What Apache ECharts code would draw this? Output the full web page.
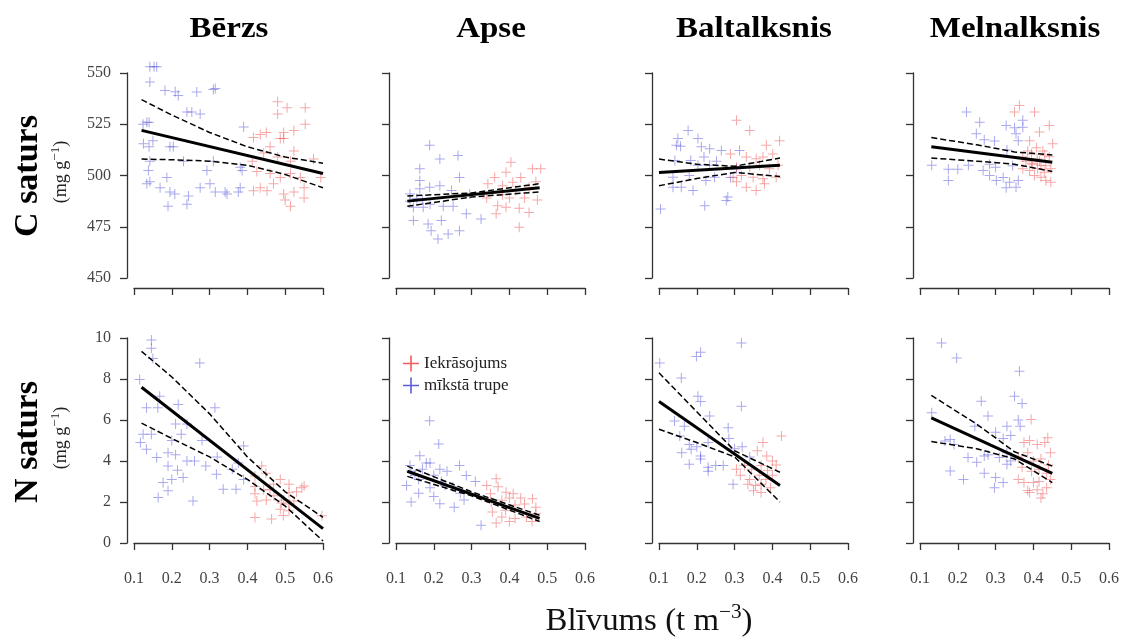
<!DOCTYPE html>
<html>
<head>
<meta charset="utf-8">
<script src="https://cdn.jsdelivr.net/npm/echarts@6/dist/echarts.min.js"></script>
<style>
  html, body { margin: 0; padding: 0; background: #fff; }
  #chart { width: 1123px; height: 641px; }
</style>
</head>
<body>
<div id="chart"></div>
<script>
// Panel titles and axis ticks
const species = ['Bērzs', 'Apse', 'Baltalksnis', 'Melnalksnis'];
const xTicks = [0.1, 0.6, 0.1];       // min, max, interval
const cTicks = [450, 550, 25];
const nTicks = [0, 10, 2];

// C content (mg/g) - [density, value]
const cBerzsBlue = [[0.142,553],[0.153,553],[0.16,553],[0.142,545.6],[0.182,541.5],[0.209,540.8],[0.217,539],[0.266,540.7],[0.315,542.4],[0.24,531],[0.253,531],[0.275,530],[0.134,526],[0.14,526],[0.124,525],[0.15,517],[0.125,515.5],[0.14,514],[0.195,514],[0.204,514],[0.142,507],[0.231,507],[0.31,507],[0.138,502.5],[0.293,502.5],[0.386,502.5],[0.142,497],[0.134,496],[0.187,499],[0.169,494],[0.195,492],[0.208,491],[0.19,485],[0.24,486],[0.244,490],[0.275,494],[0.301,496],[0.315,492],[0.341,492],[0.346,491],[0.376,492],[0.381,494],[0.381,504],[0.39,523.6],[0.31,542]];
const cBerzsRed = [[0.48,536],[0.505,533],[0.553,533],[0.553,525],[0.48,530],[0.434,520],[0.45,521],[0.496,521],[0.523,522],[0.416,518.5],[0.487,518],[0.46,514],[0.496,518],[0.523,512],[0.443,511],[0.48,509],[0.413,507],[0.514,507],[0.575,508],[0.425,502],[0.46,501],[0.487,499],[0.514,501],[0.54,499],[0.594,499],[0.434,494],[0.469,496],[0.452,492.6],[0.416,492.6],[0.496,491],[0.523,492],[0.55,494],[0.55,489],[0.514,485],[0.5,488]];
const cBerzsFit = [[0.12,522],[0.6,501]];
const cBerzsUp = [[0.12,537],[0.2,529.5],[0.3,521],[0.4,514],[0.5,509],[0.6,506]];
const cBerzsLo = [[0.12,508],[0.2,507.7],[0.3,507],[0.4,505],[0.5,500.5],[0.6,494]];

const cApseBlue = [[0.189,514.7],[0.216,508],[0.264,509.8],[0.163,503.3],[0.268,499],[0.137,491],[0.163,497.6],[0.189,494.3],[0.216,495],[0.247,492.7],[0.146,484.5],[0.172,484.5],[0.225,485],[0.251,485],[0.286,481.3],[0.146,478],[0.185,476.4],[0.22,478],[0.193,473],[0.211,469],[0.238,471.5],[0.268,473],[0.325,478.8],[0.137,487.5],[0.155,488.8],[0.17,488],[0.19,486],[0.163,493.5],[0.295,491]];
const cApseRed = [[0.404,506.5],[0.461,503.3],[0.483,503.3],[0.361,499],[0.391,501.6],[0.382,495],[0.409,496.7],[0.343,496],[0.417,492.7],[0.452,494.3],[0.369,485.3],[0.391,484.5],[0.426,484],[0.452,482],[0.365,481.3],[0.426,474.7],[0.474,488],[0.34,489],[0.4,489],[0.44,489],[0.382,490.6],[0.43,499],[0.47,497]];
const cApseFit = [[0.13,487.5],[0.48,494]];
const cApseUp = [[0.13,490],[0.3,491.5],[0.48,496]];
const cApseLo = [[0.13,485],[0.3,489.5],[0.48,492]];

const cBaltBlue = [[0.177,522],[0.146,514.7],[0.157,514.3],[0.15,518],[0.203,518],[0.212,514],[0.234,513],[0.265,512.2],[0.313,512.2],[0.142,507.3],[0.184,507.3],[0.219,509],[0.203,505],[0.234,505],[0.137,499.2],[0.18,500],[0.137,494.3],[0.159,494.3],[0.19,492.7],[0.224,497.6],[0.247,499.2],[0.221,485.3],[0.278,487.8],[0.282,489.5],[0.104,483.7],[0.305,503.3],[0.252,507],[0.289,499]];
const cBaltRed = [[0.305,526.9],[0.34,522],[0.384,514.7],[0.419,517],[0.331,509],[0.357,508.2],[0.375,509],[0.401,510.5],[0.305,504],[0.34,504],[0.366,505],[0.392,503.3],[0.415,505],[0.296,499.2],[0.318,500],[0.349,499.2],[0.375,498.4],[0.41,499.2],[0.331,494.3],[0.357,492.7],[0.379,496],[0.305,497],[0.289,510.5]];
const cBaltFit = [[0.1,501.5],[0.42,505]];
const cBaltUp = [[0.1,508],[0.2,505.5],[0.3,504.5],[0.42,508.5]];
const cBaltLo = [[0.1,495],[0.2,498.5],[0.3,501.5],[0.42,499.5]];

const cMelnBlue = [[0.223,531],[0.258,526],[0.131,505],[0.175,497.6],[0.175,503],[0.2,503],[0.228,505],[0.249,520.4],[0.27,517.5],[0.297,516.8],[0.328,524.4],[0.35,523.3],[0.372,526.9],[0.372,523.5],[0.354,520.4],[0.36,517],[0.33,512.4],[0.267,502.4],[0.284,500],[0.302,497.6],[0.32,499],[0.337,496.7],[0.354,494.3],[0.36,497.6],[0.328,494],[0.3,504],[0.284,505.5],[0.345,504.7]];
const cMelnRed = [[0.363,534.2],[0.35,531],[0.403,531],[0.442,524.4],[0.416,521.2],[0.451,515.5],[0.433,497.6],[0.39,517],[0.408,513.5],[0.395,510.5],[0.38,507],[0.398,505.5],[0.416,507],[0.433,504.7],[0.442,509.2],[0.372,503.3],[0.39,502.5],[0.411,503.3],[0.429,501.6],[0.446,503.3],[0.385,512],[0.425,512],[0.372,509],[0.403,500],[0.42,499.2],[0.446,496.7],[0.41,508],[0.43,510],[0.395,506],[0.42,505]];
const cMelnFit = [[0.13,514],[0.45,506.5]];
const cMelnUp = [[0.13,518.5],[0.25,515],[0.35,511.5],[0.45,510]];
const cMelnLo = [[0.13,508.5],[0.25,507],[0.35,505.5],[0.45,502]];

// N content (mg/g)
const nBerzsBlue = [[0.146,9.9],[0.146,9.5],[0.15,9.0],[0.274,8.78],[0.115,7.97],[0.168,7.16],[0.133,6.6],[0.163,6.6],[0.217,6.76],[0.314,6.6],[0.124,5.3],[0.146,5.3],[0.2,5.0],[0.225,5.3],[0.21,5.8],[0.24,5.8],[0.133,4.57],[0.16,4.17],[0.19,4.4],[0.21,4.3],[0.24,4.0],[0.117,4.9],[0.19,3.76],[0.215,3.55],[0.26,4.0],[0.29,3.76],[0.177,2.95],[0.2,3.1],[0.23,3.2],[0.318,3.35],[0.36,3.6],[0.376,3.9],[0.39,4.73],[0.164,2.22],[0.19,2.55],[0.256,2.05],[0.336,2.62],[0.37,2.62],[0.39,3.1],[0.32,4.2],[0.28,5.0]];
const nBerzsRed = [[0.438,3.76],[0.42,3.27],[0.449,3.4],[0.42,2.76],[0.443,2.6],[0.469,2.87],[0.487,3.1],[0.51,2.87],[0.544,2.7],[0.55,2.78],[0.425,2.05],[0.45,2.1],[0.47,2.3],[0.496,2.1],[0.51,2.45],[0.523,2.05],[0.42,1.25],[0.464,1.17],[0.487,1.65],[0.51,1.57],[0.495,1.34],[0.597,1.33],[0.42,2.4],[0.51,1.9],[0.49,1.95],[0.53,2.5],[0.46,2.6]];
const nBerzsFit = [[0.12,7.6],[0.6,0.7]];
const nBerzsUp = [[0.12,9.35],[0.2,8.1],[0.3,6.3],[0.4,4.2],[0.5,2.5],[0.6,1.25]];
const nBerzsLo = [[0.12,5.85],[0.2,5.1],[0.3,4.2],[0.4,3.1],[0.5,1.8],[0.6,0.1]];

const nApseBlue = [[0.189,5.96],[0.213,4.83],[0.163,4.26],[0.137,3.78],[0.19,3.9],[0.216,3.6],[0.235,3.5],[0.268,3.78],[0.286,3.29],[0.31,3.0],[0.128,2.8],[0.16,3.1],[0.19,2.7],[0.23,2.8],[0.14,2.0],[0.216,1.92],[0.254,1.75],[0.28,2.1],[0.15,3.3],[0.17,3.6],[0.2,3.3],[0.22,3.0],[0.25,2.75],[0.27,2.43],[0.16,2.43],[0.2,2.27],[0.325,0.86],[0.14,3.5],[0.18,3.9]];
const nApseRed = [[0.365,3.13],[0.34,2.8],[0.37,2.75],[0.391,2.48],[0.41,2.4],[0.352,2.0],[0.38,2.08],[0.415,1.85],[0.44,1.9],[0.461,2.16],[0.47,1.75],[0.355,1.51],[0.38,1.27],[0.415,1.2],[0.445,1.27],[0.47,1.43],[0.365,0.97],[0.4,1.05],[0.46,1.05],[0.35,2.4],[0.43,2.2],[0.39,1.6],[0.4,2.2]];
const nApseFit = [[0.13,3.5],[0.48,1.2]];
const nApseUp = [[0.13,3.75],[0.3,2.5],[0.48,1.35]];
const nApseLo = [[0.13,3.25],[0.3,2.3],[0.48,1.05]];

const nBaltBlue = [[0.102,8.78],[0.199,9.1],[0.21,9.3],[0.318,9.76],[0.159,8.05],[0.203,7.16],[0.21,6.9],[0.318,6.67],[0.234,6.19],[0.141,5.95],[0.167,5.7],[0.283,5.62],[0.155,5.22],[0.18,4.8],[0.2,4.7],[0.23,4.9],[0.16,4.4],[0.185,4.57],[0.21,4.25],[0.18,3.84],[0.21,4.1],[0.23,3.7],[0.25,3.78],[0.27,3.78],[0.23,3.5],[0.3,4.6],[0.32,4.7],[0.34,4.2],[0.296,2.87],[0.285,5.1]];
const nBaltRed = [[0.424,5.22],[0.375,4.9],[0.36,4.5],[0.385,4.24],[0.4,4.0],[0.305,3.6],[0.326,3.78],[0.345,3.6],[0.37,3.78],[0.387,3.55],[0.315,3.3],[0.34,3.1],[0.365,3.3],[0.383,3.1],[0.4,3.3],[0.335,2.87],[0.355,2.8],[0.37,2.87],[0.395,2.7],[0.37,2.46],[0.35,2.55],[0.41,3.8]];
const nBaltFit = [[0.1,6.9],[0.42,2.8]];
const nBaltUp = [[0.1,8.3],[0.2,6.4],[0.3,4.5],[0.42,3.45]];
const nBaltLo = [[0.1,5.55],[0.2,4.9],[0.3,4.2],[0.42,2.0]];

const nMelnBlue = [[0.157,9.76],[0.197,9.03],[0.363,8.38],[0.35,7.16],[0.262,6.92],[0.37,6.8],[0.28,6.19],[0.131,6.35],[0.245,5.7],[0.33,5.7],[0.36,6.0],[0.365,5.7],[0.166,4.97],[0.19,4.8],[0.18,5.05],[0.3,5.4],[0.32,5.1],[0.34,5.25],[0.227,4.17],[0.25,3.94],[0.27,4.25],[0.28,4.3],[0.31,4.17],[0.33,3.84],[0.34,4.0],[0.18,3.51],[0.215,3.1],[0.27,3.4],[0.3,3.2],[0.32,2.95],[0.297,2.7],[0.33,4.4]];
const nMelnRed = [[0.394,6.03],[0.438,5.14],[0.375,4.9],[0.41,4.8],[0.43,4.9],[0.445,4.4],[0.36,4.2],[0.385,4.4],[0.4,4.0],[0.42,4.1],[0.44,3.8],[0.37,3.7],[0.395,3.5],[0.415,3.6],[0.435,3.4],[0.445,3.1],[0.36,3.1],[0.375,2.95],[0.4,2.95],[0.415,3.0],[0.435,2.7],[0.385,2.56],[0.41,2.6],[0.425,2.4],[0.39,2.46],[0.42,2.2],[0.39,5.0]];
const nMelnFit = [[0.13,6.1],[0.45,3.4]];
const nMelnUp = [[0.13,7.2],[0.25,5.8],[0.35,4.45],[0.45,3.75]];
const nMelnLo = [[0.13,4.95],[0.25,4.6],[0.35,4.1],[0.45,2.95]];

const panels = [
    { red: cBerzsRed, blue: cBerzsBlue, fit: cBerzsFit, up: cBerzsUp, lo: cBerzsLo },
    { red: cApseRed, blue: cApseBlue, fit: cApseFit, up: cApseUp, lo: cApseLo },
    { red: cBaltRed, blue: cBaltBlue, fit: cBaltFit, up: cBaltUp, lo: cBaltLo },
    { red: cMelnRed, blue: cMelnBlue, fit: cMelnFit, up: cMelnUp, lo: cMelnLo },
    { red: nBerzsRed, blue: nBerzsBlue, fit: nBerzsFit, up: nBerzsUp, lo: nBerzsLo },
    { red: nApseRed, blue: nApseBlue, fit: nApseFit, up: nApseUp, lo: nApseLo },
    { red: nBaltRed, blue: nBaltBlue, fit: nBaltFit, up: nBaltUp, lo: nBaltLo },
    { red: nMelnRed, blue: nMelnBlue, fit: nMelnFit, up: nMelnUp, lo: nMelnLo }
];

const SERIF = '"Liberation Serif", "DejaVu Serif", serif';
const PLUS = 'path://M4.5,0h1v4.5h4.5v1h-4.5v4.5h-1v-4.5h-4.5v-1h4.5z';
const RED = 'rgba(235,55,55,0.55)';
const BLUE = 'rgba(60,60,215,0.55)';
const colLeft = [134, 396, 659, 920];
const rowTop = [73, 338];

const chart = echarts.init(document.getElementById('chart'), null, { renderer: 'canvas' });

const grids = [], xAxes = [], yAxes = [], series = [];

panels.forEach((p, i) => {
    const row = Math.floor(i / 4);
    const col = i % 4;
    const yt = row === 0 ? cTicks : nTicks;

    grids.push({ left: colLeft[col], top: rowTop[row], width: 189, height: 205 });

    xAxes.push({
        gridIndex: i, type: 'value',
        min: xTicks[0], max: xTicks[1], interval: xTicks[2],
        offset: 10,
        axisLine: { show: true, lineStyle: { color: '#333', width: 1.3 } },
        axisTick: { show: true, length: 7, lineStyle: { color: '#333', width: 1.3 } },
        axisLabel: {
            show: row === 1, margin: 18,
            fontFamily: SERIF, fontSize: 16, color: '#444',
            formatter: v => v.toFixed(1)
        },
        splitLine: { show: false }
    });

    yAxes.push({
        gridIndex: i, type: 'value',
        min: yt[0], max: yt[1], interval: yt[2],
        offset: 7,
        axisLine: { show: true, lineStyle: { color: '#333', width: 1.3 } },
        axisTick: { show: true, length: 7, lineStyle: { color: '#333', width: 1.3 } },
        axisLabel: {
            show: col === 0, margin: 16,
            fontFamily: SERIF, fontSize: 16, color: '#444'
        },
        splitLine: { show: false }
    });

    series.push({
        name: 'mīkstā trupe', type: 'scatter', xAxisIndex: i, yAxisIndex: i,
        data: p.blue, symbol: PLUS, symbolSize: 10, clip: false,
        itemStyle: { color: BLUE }
    });
    series.push({
        name: 'Iekrāsojums', type: 'scatter', xAxisIndex: i, yAxisIndex: i,
        data: p.red, symbol: PLUS, symbolSize: 10, clip: false,
        itemStyle: { color: RED }
    });
    series.push({
        type: 'line', xAxisIndex: i, yAxisIndex: i, data: p.fit,
        symbol: 'none', z: 5,
        lineStyle: { color: '#000', width: 3 }
    });
    [p.up, p.lo].forEach(band => {
        series.push({
            type: 'line', xAxisIndex: i, yAxisIndex: i, data: band,
            symbol: 'none', z: 5,
            lineStyle: { color: '#000', width: 1.5, type: [6, 3] }
        });
    });
});

// Titles and axis captions
const graphics = species.map((s, i) => ({
    type: 'text', x: colLeft[i] + 95, y: 29, scaleX: 1.1,
    style: { text: s, font: 'bold 30px ' + SERIF, textAlign: 'center', textVerticalAlign: 'middle', fill: '#000' }
}));

[['C saturs', 176], ['N saturs', 442]].forEach(([txt, cy]) => {
    graphics.push({
        type: 'text', x: 28, y: cy, rotation: Math.PI / 2,
        style: { text: txt, font: 'bold 34px ' + SERIF, textAlign: 'center', textVerticalAlign: 'middle', fill: '#000' }
    });
    graphics.push({
        type: 'text', x: 61, y: cy - 4, rotation: Math.PI / 2,
        style: {
            text: '{a|(mg g}{b|−1}{a|)}',
            textAlign: 'center', textVerticalAlign: 'middle',
            rich: {
                a: { fontFamily: SERIF, fontSize: 18, fill: '#222', lineHeight: 24 },
                b: { fontFamily: SERIF, fontSize: 13, fill: '#222', verticalAlign: 'top', lineHeight: 24 }
            }
        }
    });
});

graphics.push({
    type: 'text', x: 649, y: 622, scaleX: 1.06,
    style: {
        text: '{a|Blīvums (t m}{b|−3}{a|)}',
        textAlign: 'center', textVerticalAlign: 'middle',
        rich: {
            a: { fontFamily: SERIF, fontSize: 31, fill: '#111', lineHeight: 38 },
            b: { fontFamily: SERIF, fontSize: 20, fill: '#111', verticalAlign: 'top', lineHeight: 38 }
        }
    }
});

chart.setOption({
    animation: false,
    backgroundColor: '#fff',
    legend: {
        data: [
            { name: 'Iekrāsojums', itemStyle: { color: '#e33' } },
            { name: 'mīkstā trupe', itemStyle: { color: '#33c' } }
        ],
        orient: 'vertical', left: 403, top: 355, itemGap: 5, padding: 0,
        icon: PLUS, itemWidth: 16, itemHeight: 16,
        textStyle: { fontFamily: SERIF, fontSize: 17, color: '#222' }
    },
    grid: grids,
    xAxis: xAxes,
    yAxis: yAxes,
    series: series,
    graphic: graphics
});
</script>
</body>
</html>
